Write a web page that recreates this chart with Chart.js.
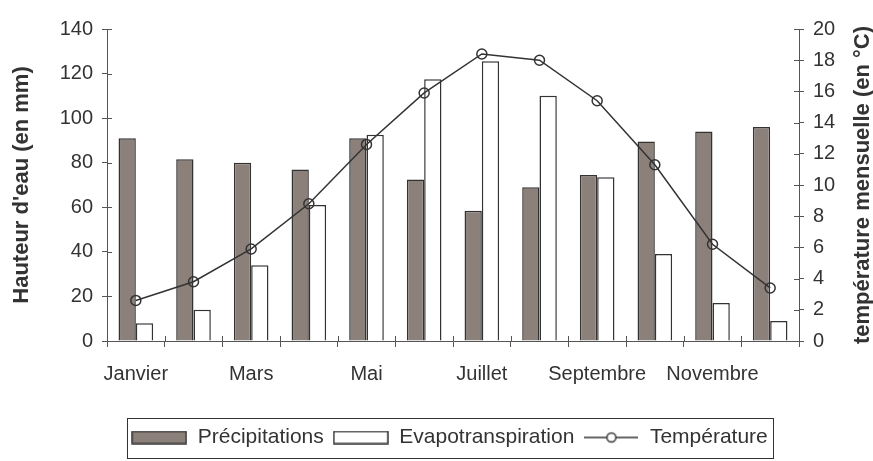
<!DOCTYPE html>
<html><head><meta charset="utf-8">
<script src="https://cdn.jsdelivr.net/npm/chart.js@4.4.1/dist/chart.umd.min.js"></script>
<style>html,body{margin:0;padding:0;background:#fff}#wrap{width:873px;height:461px}</style>
</head><body><div id="wrap"><canvas id="c" width="873" height="461"></canvas></div>
<script>
const months = ['Janvier','Février','Mars','Avril','Mai','Juin','Juillet','Août','Septembre','Octobre','Novembre','Décembre'];
const precipitations = [91, 81.5, 80, 77, 91, 72.5, 58.5, 69, 74.5, 89.5, 94, 96];
const evapotranspiration = [8, 14, 34, 61, 92.5, 117.5, 125.5, 110, 73.5, 39, 17, 9];
const temperature = [2.6, 3.8, 5.9, 8.8, 12.6, 15.9, 18.4, 18.0, 15.4, 11.3, 6.2, 3.4];
const leftTicks = [0,20,40,60,80,100,120,140];
const rightTicks = [0,2,4,6,8,10,12,14,16,18,20];

const INK = '#333333';
const BROWN = '#8c807b';
const FONT = 'Liberation Sans, Arial, sans-serif';

function boxImg(fill){
  const c = document.createElement('canvas'); c.width = 56; c.height = 14;
  const x = c.getContext('2d');
  x.fillStyle = fill; x.fillRect(1,1,54,12);
  x.strokeStyle = INK; x.lineWidth = 1.5; x.strokeRect(1,1,54,12);
  return c;
}
function lineImg(){
  const c = document.createElement('canvas'); c.width = 54; c.height = 14;
  const x = c.getContext('2d');
  x.strokeStyle = INK; x.lineWidth = 1.5;
  x.beginPath(); x.moveTo(0,7); x.lineTo(54,7); x.stroke();
  x.fillStyle = '#fff'; x.beginPath(); x.arc(27,7,4.5,0,Math.PI*2); x.fill(); x.stroke();
  return c;
}
const legendImgs = [boxImg(BROWN), boxImg('#ffffff'), lineImg()];

const crossTicks = {
  id: 'crossTicks',
  afterDraw(chart){
    const {ctx, chartArea:a, scales} = chart;
    ctx.save(); ctx.strokeStyle = '#555'; ctx.lineWidth = 1; ctx.beginPath();
    scales.y.ticks.forEach((t,i)=>{ const y = Math.round(scales.y.getPixelForTick(i))+0.5; ctx.moveTo(a.left,y); ctx.lineTo(a.left+5,y); });
    scales.y2.ticks.forEach((t,i)=>{ const y = Math.round(scales.y2.getPixelForTick(i))+0.5; ctx.moveTo(a.right-5,y); ctx.lineTo(a.right,y); });
    for(let i=0;i<=months.length;i++){ const x = Math.round(scales.x.getPixelForValue(i-0.5))+0.5; ctx.moveTo(x,a.bottom-5); ctx.lineTo(x,a.bottom); }
    ctx.stroke(); ctx.restore();
  }
};
const legendFrame = {
  id: 'legendFrame',
  afterDraw(chart){
    const hb = chart.legend.legendHitBoxes; if(!hb || !hb.length) return;
    let l = Infinity, r = -Infinity, t = Infinity, b = -Infinity;
    hb.forEach(h=>{ l=Math.min(l,h.left); r=Math.max(r,h.left+h.width); t=Math.min(t,h.top); b=Math.max(b,h.top+h.height); });
    const cy = (t+b)/2;
    const ctx = chart.ctx; ctx.save(); ctx.strokeStyle = INK; ctx.lineWidth = 1;
    ctx.strokeRect(Math.round(l-4)+0.5, Math.round(cy-20)+0.5, Math.round(r-l+9), 40);
    ctx.restore();
  }
};
const rightTitle = {
  id: 'rightTitle',
  afterDraw(chart){
    const {ctx, chartArea:a} = chart;
    ctx.save(); ctx.translate(chart.width-10, (a.top+a.bottom)/2); ctx.rotate(-Math.PI/2);
    ctx.font = 'bold 22px ' + FONT; ctx.fillStyle = INK; ctx.textAlign = 'center'; ctx.textBaseline = 'middle';
    ctx.fillText('température mensuelle (en °C)', 0, 0); ctx.restore();
  }
};

new Chart(document.getElementById('c'), {
  data: {
    labels: months,
    datasets: [
      {type:'bar', label:'Précipitations', data: precipitations, backgroundColor: BROWN, borderColor: INK, borderWidth: 1.5, yAxisID:'y', order:1, categoryPercentage:0.6, barPercentage:1},
      {type:'bar', label:'Evapotranspiration', data: evapotranspiration, backgroundColor:'#ffffff', borderColor: INK, borderWidth: 1.5, yAxisID:'y', order:1, categoryPercentage:0.6, barPercentage:1},
      {type:'line', label:'Température', data: temperature, borderColor: INK, borderWidth: 1.5, pointRadius: 5, pointBorderWidth: 1.5, pointBackgroundColor:'rgba(0,0,0,0)', pointBorderColor: INK, yAxisID:'y2', order:0, tension:0}
    ]
  },
  options: {
    responsive: false, animation: false, devicePixelRatio: 1,
    layout: {padding: {top: 29, left: 26, right: 0, bottom: 3}},
    plugins: {
      tooltip: {enabled:false},
      legend: {
        position:'bottom',
        labels: {
          color: INK, font: {family: FONT, size: 21}, padding: 9,
          usePointStyle: true, pointStyleWidth: 56, boxHeight: 14,
          sort: (a,b)=>a.datasetIndex-b.datasetIndex,
          generateLabels(chart){
            return chart.data.datasets.map((d,i)=>({text:d.label, datasetIndex:i, pointStyle: legendImgs[i], fillStyle:'#fff', strokeStyle: INK, lineWidth:0, hidden:false, fontColor: INK}));
          }
        }
      }
    },
    scales: {
      x: {
        offset: true,
        grid: {display:true, drawOnChartArea:false, tickLength:6, color:'#555', offset:true},
        border: {display:true, color:'#555', width:1},
        ticks: {color: INK, font:{family:FONT, size:20}, autoSkip:false, maxRotation:0, padding: 15,
          callback: (v,i)=> i%2===0 ? months[i] : ''},
        afterFit: s => { s.height = 77; }
      },
      y: {
        position:'left', min:0, max:140,
        afterBuildTicks: s => { s.ticks = leftTicks.map(v=>({value:v})); },
        grid: {drawOnChartArea:false, tickLength:5, color:'#555'},
        border: {display:true, color:'#555', width:1},
        ticks: {color: INK, font:{family:FONT, size:20}, padding: 9},
        title: {display:true, text:"Hauteur d'eau (en mm)", color: INK, font:{family:FONT, size:22, weight:'bold'}, padding:{top:-17, bottom:0}},
        afterFit: s => { s.width = 81; }
      },
      y2: {
        position:'right', min:0, max:20,
        afterBuildTicks: s => { s.ticks = rightTicks.map(v=>({value:v})); },
        grid: {drawOnChartArea:false, tickLength:5, color:'#555'},
        border: {display:true, color:'#555', width:1},
        ticks: {color: INK, font:{family:FONT, size:20}, padding: 9},
        afterFit: s => { s.width = 74; }
      }
    }
  },
  plugins: [crossTicks, legendFrame, rightTitle]
});
</script></body></html>
